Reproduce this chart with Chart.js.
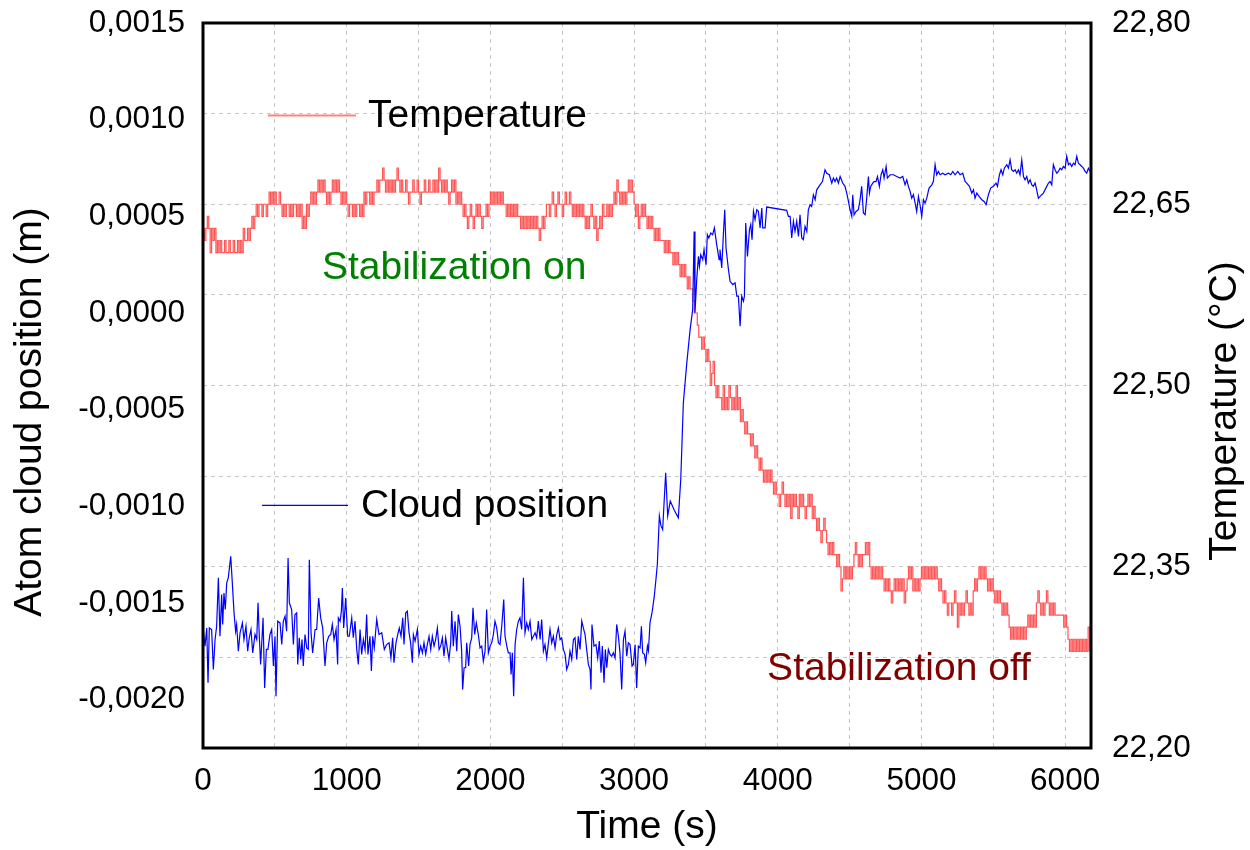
<!DOCTYPE html>
<html>
<head>
<meta charset="utf-8">
<script src="https://cdn.jsdelivr.net/npm/chart.js@4.4.1/dist/chart.umd.min.js"></script>
<style>
  html, body { margin: 0; padding: 0; background: #fff; }
  #wrap { width: 1250px; height: 850px; }
</style>
</head>
<body>
<div id="wrap"><canvas id="chart" width="1250" height="850"></canvas></div>
<script>
// axis ticks
const timeTicks = [0, 500, 1000, 1500, 2000, 2500, 3000, 3500, 4000, 4500, 5000, 5500, 6000];
const timeTickLabels = ['0', '', '1000', '', '2000', '', '3000', '', '4000', '', '5000', '', '6000'];
const posTicks = [-0.002, -0.0015, -0.001, -0.0005, 0, 0.0005, 0.001, 0.0015];
const tempTicks = [22.2, 22.275, 22.35, 22.425, 22.5, 22.575, 22.65, 22.725, 22.8];
const tempTickLabels = ['22,20', '', '22,35', '', '22,50', '', '22,65', '', '22,80'];

// temperature (°C), one reading every tempStep seconds from t = 0 (one row = 200 s)
const tempStep = 10;
const tempValues = [
  22.63,22.62,22.63,22.64,22.63,22.61,22.63,22.62,22.63,22.61, 22.62,22.61,22.62,22.61,22.61,22.62,22.61,22.61,22.62,22.61,
  22.61,22.62,22.61,22.61,22.62,22.61,22.62,22.61,22.63,22.62, 22.62,22.63,22.62,22.63,22.64,22.63,22.64,22.65,22.64,22.65,
  22.65,22.64,22.65,22.65,22.64,22.65,22.66,22.65,22.66,22.65, 22.66,22.65,22.65,22.66,22.65,22.64,22.65,22.64,22.65,22.65,
  22.64,22.65,22.64,22.65,22.65,22.64,22.65,22.64,22.65,22.63, 22.64,22.63,22.65,22.64,22.65,22.66,22.65,22.66,22.65,22.66,
  22.67,22.66,22.67,22.66,22.67,22.66,22.65,22.66,22.65,22.66, 22.67,22.66,22.67,22.66,22.67,22.66,22.65,22.66,22.65,22.66,
  22.65,22.64,22.65,22.65,22.64,22.65,22.64,22.65,22.65,22.64, 22.65,22.64,22.66,22.65,22.66,22.66,22.65,22.66,22.65,22.66,
  22.66,22.67,22.66,22.67,22.67,22.68,22.67,22.66,22.67,22.66, 22.67,22.66,22.67,22.66,22.67,22.68,22.67,22.66,22.67,22.66,
  22.66,22.67,22.66,22.65,22.66,22.66,22.67,22.66,22.66,22.67, 22.66,22.65,22.66,22.66,22.67,22.66,22.66,22.67,22.66,22.66,
  22.67,22.66,22.67,22.66,22.68,22.67,22.66,22.67,22.66,22.67, 22.66,22.65,22.66,22.67,22.66,22.67,22.65,22.66,22.65,22.66,
  22.65,22.64,22.65,22.64,22.63,22.64,22.65,22.64,22.63,22.64, 22.65,22.64,22.65,22.64,22.63,22.64,22.64,22.65,22.64,22.65,
  22.66,22.65,22.66,22.65,22.66,22.65,22.66,22.65,22.66,22.65, 22.65,22.64,22.65,22.64,22.65,22.64,22.65,22.64,22.65,22.64,
  22.64,22.63,22.64,22.63,22.64,22.63,22.64,22.63,22.64,22.63, 22.64,22.63,22.64,22.63,22.62,22.63,22.64,22.63,22.64,22.65,
  22.65,22.64,22.65,22.66,22.65,22.64,22.65,22.66,22.65,22.65, 22.64,22.65,22.66,22.65,22.65,22.66,22.65,22.64,22.65,22.64,
  22.65,22.64,22.65,22.64,22.65,22.64,22.63,22.64,22.63,22.64, 22.65,22.64,22.63,22.64,22.62,22.63,22.64,22.63,22.65,22.64,
  22.64,22.65,22.64,22.65,22.64,22.65,22.66,22.65,22.67,22.66, 22.65,22.66,22.65,22.66,22.65,22.66,22.67,22.66,22.67,22.66,
  22.65,22.64,22.65,22.63,22.64,22.65,22.64,22.65,22.64,22.63, 22.64,22.63,22.64,22.63,22.62,22.63,22.62,22.63,22.62,22.62,
  22.62,22.61,22.62,22.61,22.62,22.61,22.61,22.60,22.61,22.60, 22.61,22.60,22.59,22.60,22.59,22.60,22.59,22.58,22.59,22.58,
  22.58,22.57,22.56,22.56,22.55,22.54,22.54,22.53,22.54,22.53, 22.52,22.53,22.52,22.50,22.51,22.52,22.50,22.49,22.50,22.49,
  22.49,22.48,22.50,22.48,22.49,22.48,22.50,22.49,22.48,22.49, 22.48,22.50,22.48,22.49,22.47,22.48,22.47,22.46,22.47,22.46,
  22.46,22.45,22.46,22.45,22.44,22.45,22.44,22.43,22.44,22.43, 22.42,22.43,22.42,22.43,22.42,22.43,22.42,22.41,22.42,22.41,
  22.41,22.40,22.41,22.42,22.41,22.40,22.41,22.40,22.41,22.39, 22.41,22.40,22.41,22.40,22.39,22.41,22.40,22.41,22.40,22.39,
  22.40,22.41,22.40,22.41,22.39,22.40,22.39,22.38,22.39,22.38, 22.37,22.38,22.39,22.38,22.37,22.36,22.37,22.36,22.37,22.36,
  22.36,22.35,22.36,22.35,22.33,22.34,22.35,22.34,22.35,22.34, 22.35,22.34,22.35,22.36,22.37,22.36,22.35,22.36,22.35,22.36,
  22.36,22.37,22.36,22.37,22.35,22.34,22.35,22.34,22.35,22.34, 22.35,22.34,22.35,22.34,22.33,22.34,22.33,22.34,22.33,22.32,
  22.33,22.34,22.33,22.34,22.33,22.34,22.33,22.34,22.32,22.33, 22.34,22.35,22.34,22.35,22.33,22.34,22.33,22.34,22.33,22.34,
  22.35,22.34,22.35,22.34,22.35,22.34,22.35,22.34,22.35,22.34, 22.35,22.34,22.33,22.34,22.33,22.32,22.33,22.32,22.31,22.32,
  22.32,22.31,22.32,22.33,22.32,22.30,22.32,22.31,22.32,22.31, 22.32,22.33,22.32,22.31,22.32,22.31,22.33,22.34,22.33,22.34,
  22.35,22.34,22.35,22.34,22.35,22.34,22.33,22.34,22.33,22.34, 22.33,22.32,22.33,22.32,22.33,22.32,22.31,22.32,22.31,22.32,
  22.31,22.30,22.29,22.30,22.29,22.30,22.29,22.30,22.29,22.30, 22.29,22.30,22.29,22.30,22.31,22.30,22.31,22.30,22.31,22.30,
  22.32,22.33,22.32,22.31,22.32,22.31,22.32,22.33,22.32,22.31, 22.32,22.31,22.32,22.31,22.31,22.31,22.31,22.31,22.31,22.30,
  22.31,22.30,22.29,22.28,22.29,22.28,22.29,22.28,22.29,22.28, 22.29,22.28,22.29,22.28,22.29,22.28,22.30,22.28
];

// atom cloud position: time (s) and position (m)
const posTimes = [
  2,14,26,35,44,60,72,84,95,107,
  118,130,137,146,155,165,176,193,204,216,
  227,234,246,258,274,285,299,311,322,334,
  346,362,374,383,392,401,418,429,441,452,
  466,478,490,501,508,520,536,548,559,571,
  582,592,601,617,629,640,652,659,670,680,
  689,698,710,722,733,740,752,763,780,791,
  805,819,833,849,861,875,889,900,912,926,
  937,942,954,963,970,979,993,1007,1018,1035,
  1046,1058,1070,1081,1093,1104,1116,1128,1139,1148,
  1162,1172,1181,1192,1209,1225,1244,1262,1278,1295,
  1308,1320,1329,1343,1355,1366,1378,1390,1399,1411,
  1422,1434,1445,1457,1464,1476,1492,1503,1515,1527,
  1538,1550,1561,1573,1585,1596,1608,1619,1631,1643,
  1654,1666,1677,1689,1701,1712,1724,1731,1742,1754,
  1766,1777,1789,1800,1807,1817,1828,1835,1849,1858,
  1870,1879,1891,1902,1916,1928,1940,1951,1963,1974,
  1986,1998,2009,2021,2032,2044,2056,2067,2079,2093,
  2102,2114,2125,2137,2144,2153,2162,2172,2183,2195,
  2206,2218,2230,2241,2253,2264,2276,2288,2299,2311,
  2322,2334,2346,2357,2369,2380,2392,2404,2415,2427,
  2438,2450,2462,2473,2485,2496,2508,2520,2531,2543,
  2554,2566,2578,2589,2601,2612,2624,2636,2647,2659,
  2670,2682,2694,2700,2707,2721,2735,2747,2758,2770,
  2779,2791,2800,2810,2821,2833,2844,2856,2868,2879,
  2891,2902,2914,2926,2937,2949,2960,2972,2986,2995,
  3007,3018,3030,3042,3051,3060,3072,3081,3093,
  3100,3111,3125,3140,3152,3162,3176,3187,3199,3220,
  3234,3252,3280,3308,3325,3343,3367,3390,3408,3418,
  3424,3436,3448,3455,3464,3478,3487,3501,3510,3520,
  3534,3547,3559,3575,3592,3598,3610,3622,3631,3640,
  3657,3668,3687,3703,3715,3726,3738,3749,3761,3768,
  3777,3789,3803,3812,3821,3831,3842,3854,3865,3877,
  3889,3895,3912,3923,
  4062,4074,4086,4097,4109,4120,4132,4144,4155,4167,
  4178,4190,4202,4213,4225,4236,4248,4260,4271,4294,
  4311,4329,4341,4359,4376,4387,4399,4410,4422,4434,
  4452,4468,4480,4492,4503,4515,4522,4531,4545,4561,
  4573,4584,4596,4608,4619,4631,4638,4647,4661,4670,
  4684,4694,4707,4719,4731,4740,4754,4763,4782,4805,
  4828,4851,4870,4886,4898,4909,4921,4932,4944,4956,
  4967,4979,4990,5002,5014,5025,5037,5053,5072,5083,
  5095,5106,5118,5130,5148,5164,5188,5204,5218,5234,
  5253,5269,5287,5304,5315,5334,5350,5362,5373,5385,
  5401,5420,5436,5450,5466,5482,5501,5519,5529,5543,
  5554,5566,5577,5594,5605,5617,5628,5640,5652,5663,
  5675,5686,5698,5710,5721,5733,5744,5756,5768,5779,
  5791,5802,5814,5826,5837,5849,5860,5872,5884,5895,
  5907,5918,5930,5942,5953,5965,5976,5988,6000,6011,
  6023,6034,6046,6058,6069,6081,6092,6104,6116,6127,
  6139,6150,6162,6174
];
const posValues = [
  -0.001637,-0.001723,-0.001629,-0.001913,-0.001629,-0.001637,-0.001844,-0.001689,-0.001620,-0.001370,
  -0.001672,-0.001456,-0.001611,-0.001448,-0.001534,-0.001396,-0.001370,-0.001258,-0.001396,-0.001551,
  -0.001646,-0.001611,-0.001749,-0.001654,-0.001603,-0.001689,-0.001620,-0.001749,-0.001680,-0.001637,
  -0.001758,-0.001663,-0.001689,-0.001499,-0.001672,-0.001818,-0.001577,-0.001939,-0.001740,-0.001740,
  -0.001663,-0.001637,-0.001826,-0.001672,-0.001982,-0.001594,-0.001603,-0.001715,-0.001594,-0.001568,
  -0.001646,-0.001267,-0.001499,-0.001534,-0.001715,-0.001560,-0.001551,-0.001818,-0.001680,-0.001792,
  -0.001689,-0.001826,-0.001663,-0.001732,-0.001740,-0.001276,-0.001654,-0.001758,-0.001637,-0.001637,
  -0.001474,-0.001577,-0.001629,-0.001826,-0.001706,-0.001672,-0.001663,-0.001611,-0.001689,-0.001637,
  -0.001818,-0.001577,-0.001594,-0.001542,-0.001422,-0.001629,-0.001474,-0.001672,-0.001672,-0.001577,
  -0.001680,-0.001594,-0.001740,-0.001818,-0.001637,-0.001766,-0.001689,-0.001740,-0.001560,-0.001766,
  -0.001672,-0.001852,-0.001672,-0.001732,-0.001585,-0.001663,-0.001654,-0.001740,-0.001715,-0.001706,
  -0.001784,-0.001680,-0.001809,-0.001706,-0.001663,-0.001629,-0.001672,-0.001577,-0.001715,-0.001551,
  -0.001542,-0.001654,-0.001706,-0.001809,-0.001663,-0.001697,-0.001637,-0.001766,-0.001723,-0.001758,
  -0.001706,-0.001766,-0.001715,-0.001672,-0.001740,-0.001672,-0.001723,-0.001689,-0.001629,-0.001740,
  -0.001723,-0.001680,-0.001775,-0.001680,-0.001740,-0.001792,-0.001706,-0.001542,-0.001723,-0.001594,
  -0.001749,-0.001560,-0.001620,-0.001749,-0.001947,-0.001835,-0.001835,-0.001706,-0.001826,-0.001715,
  -0.001680,-0.001525,-0.001663,-0.001603,-0.001663,-0.001732,-0.001723,-0.001801,-0.001749,-0.001534,
  -0.001758,-0.001723,-0.001706,-0.001663,-0.001594,-0.001629,-0.001706,-0.001715,-0.001620,-0.001482,
  -0.001672,-0.001723,-0.001758,-0.001758,-0.001870,-0.001758,-0.001982,-0.001715,-0.001637,-0.001594,
  -0.001577,-0.001637,-0.001370,-0.001654,-0.001603,-0.001637,-0.001594,-0.001689,-0.001672,-0.001654,
  -0.001680,-0.001594,-0.001689,-0.001585,-0.001749,-0.001715,-0.001784,-0.001706,-0.001637,-0.001706,
  -0.001672,-0.001732,-0.001663,-0.001629,-0.001689,-0.001680,-0.001740,-0.001766,-0.001844,-0.001818,
  -0.001749,-0.001792,-0.001689,-0.001680,-0.001792,-0.001672,-0.001740,-0.001594,-0.001629,-0.001663,
  -0.001740,-0.001818,-0.001844,-0.001947,-0.001611,-0.001723,-0.001715,-0.001784,-0.001697,-0.001861,
  -0.001723,-0.001913,-0.001740,-0.001835,-0.001740,-0.001766,-0.001775,-0.001758,-0.001784,-0.001611,
  -0.001672,-0.001758,-0.001947,-0.001689,-0.001646,-0.001775,-0.001706,-0.001715,-0.001826,-0.001818,
  -0.001715,-0.001939,-0.001723,-0.001732,-0.001620,-0.001758,-0.001766,-0.001809,-0.001723,
  -0.001747,-0.001601,-0.00155,-0.00147,-0.00138,-0.0013,-0.00105,-0.0011,-0.00112,-0.000826,
  -0.00105,-0.000973,-0.00102,-0.001059,-0.00086,-0.000464,-0.000258,-0.000086,0.000018,0.000422,
  0.000001,0.000173,0.000293,0.000242,0.000302,0.000276,0.000328,0.00025,0.000405,0.000388,
  0.000414,0.000405,0.00044,0.000354,0.000276,0.000328,0.000233,0.000414,0.000534,0.000336,
  0.000224,0.000164,0.000147,0.000156,0.000087,0.000087,-0.000068,0.000087,0.000061,0.000087,
  0.000465,0.000293,0.000431,0.000457,0.000379,0.000526,0.000483,0.000534,0.000526,0.00044,
  0.000543,0.00044,0.00044,0.000548,
  0.000531,0.0005,0.0005,0.000388,0.000474,0.000422,0.000474,0.000396,0.000508,0.000388,
  0.000379,0.000448,0.000422,0.000534,0.00056,0.000551,0.000612,0.000586,0.000637,0.000663,
  0.00068,0.000741,0.000723,0.000715,0.000672,0.000698,0.00068,0.000698,0.000672,0.000706,
  0.000672,0.000655,0.00062,0.000577,0.000534,0.0005,0.000612,0.000508,0.000525,0.000534,
  0.000586,0.000655,0.000517,0.000508,0.000594,0.000706,0.00062,0.000655,0.000672,0.00068,
  0.00068,0.000706,0.000655,0.000715,0.000741,0.000698,0.000758,0.000698,0.000715,0.000715,
  0.000706,0.000698,0.000706,0.000663,0.000689,0.000655,0.000629,0.000594,0.000612,0.000568,
  0.000525,0.000603,0.00056,0.0005,0.000586,0.000568,0.000594,0.000646,0.000663,0.00068,
  0.000767,0.000715,0.000732,0.000715,0.000723,0.000715,0.000723,0.000715,0.000732,0.000715,
  0.000732,0.000715,0.000723,0.00068,0.000672,0.000655,0.00062,0.000637,0.000594,0.00062,
  0.000603,0.000586,0.000577,0.00056,0.000612,0.000646,0.000655,0.000672,0.000655,0.000715,
  0.000741,0.000715,0.000749,0.000767,0.000749,0.000792,0.000741,0.000732,0.000741,0.000723,
  0.000741,0.000715,0.000792,0.000706,0.000689,0.000706,0.000672,0.000689,0.000663,0.000655,
  0.000672,0.000637,0.000594,0.000603,0.000612,0.00062,0.000637,0.000655,0.000672,0.00068,
  0.000663,0.000767,0.000741,0.000723,0.000732,0.000749,0.000741,0.000758,0.000749,0.00081,
  0.000767,0.000775,0.000758,0.000775,0.000767,0.00081,0.000775,0.000767,0.000758,0.000749,
  0.000732,0.000723,0.000749,0.000732
];

const FONT = '"Liberation Sans", Arial, Helvetica, sans-serif';
Chart.defaults.font.family = FONT;
Chart.defaults.color = '#000';

const tempData = tempValues.map((v, i) => ({ x: i * tempStep, y: v }));
const posData = posTimes.map((t, i) => ({ x: t, y: posValues[i] }));

const gridColor = '#c8c8c8';
const decimalComma = (v, d) => v.toFixed(d).replace('.', ',');
// keep the plot box where the reference has it
const noPad = s => { s.paddingTop = 0; s.paddingBottom = 0; s.paddingLeft = 0; s.paddingRight = 0; };

// frame, axis titles, in-plot legend and the two notes
const decor = {
  id: 'decor',
  afterDatasetsDraw(chart) {
    const { ctx, chartArea: a, scales } = chart;
    const sx = scales.x, sp = scales.yP, st = scales.yT;
    const [posSet, tempSet] = chart.data.datasets;
    ctx.save();
    ctx.strokeStyle = '#000';
    ctx.lineWidth = 3;
    ctx.strokeRect(a.left, a.top, a.right - a.left, a.bottom - a.top);

    ctx.font = '39px ' + FONT;
    ctx.textBaseline = 'middle';
    ctx.textAlign = 'left';

    // legend: Temperature
    let y = st.getPixelForValue(22.7234);
    ctx.strokeStyle = '#ff8080';
    ctx.lineWidth = 2;
    ctx.beginPath();
    ctx.moveTo(sx.getPixelForValue(452), y);
    ctx.lineTo(sx.getPixelForValue(1065), y);
    ctx.stroke();
    ctx.fillStyle = '#000';
    ctx.fillText(tempSet.label, sx.getPixelForValue(1148), y + 1);

    // legend: Cloud position
    y = sp.getPixelForValue(-0.000995);
    ctx.strokeStyle = '#0000ff';
    ctx.lineWidth = 1.2;
    ctx.beginPath();
    ctx.moveTo(sx.getPixelForValue(411), y);
    ctx.lineTo(sx.getPixelForValue(1009), y);
    ctx.stroke();
    ctx.fillText(posSet.label, sx.getPixelForValue(1100), y + 1);

    // notes
    ctx.fillStyle = '#008000';
    ctx.fillText('Stabilization on', sx.getPixelForValue(828), st.getPixelForValue(22.597));
    ctx.fillStyle = '#800000';
    ctx.fillText('Stabilization off', sx.getPixelForValue(3926), st.getPixelForValue(22.265));

    // axis titles
    ctx.fillStyle = '#000';
    ctx.textAlign = 'center';
    ctx.fillText('Time (s)', (a.left + a.right) / 2, 827);
    ctx.save();
    ctx.translate(30, 412);
    ctx.rotate(-Math.PI / 2);
    ctx.fillText('Atom cloud position (m)', 0, 0);
    ctx.restore();
    ctx.save();
    ctx.translate(1225, 411);
    ctx.rotate(-Math.PI / 2);
    ctx.fillText('Temperature (°C)', 0, 0);
    ctx.restore();
    ctx.restore();
  }
};

new Chart(document.getElementById('chart'), {
  type: 'line',
  data: {
    datasets: [
      {
        label: 'Cloud position',
        data: posData,
        yAxisID: 'yP',
        borderColor: '#0000ff',
        borderWidth: 1.2,
        pointRadius: 0,
        tension: 0
      },
      {
        label: 'Temperature',
        data: tempData,
        yAxisID: 'yT',
        borderColor: '#ff5555',
        borderWidth: 1.2,
        pointRadius: 0,
        stepped: true
      }
    ]
  },
  options: {
    responsive: false,
    animation: false,
    devicePixelRatio: 1,
    layout: { padding: { top: 23, left: 0, right: 0, bottom: 0 } },
    plugins: { legend: { display: false }, tooltip: { enabled: false } },
    scales: {
      x: {
        type: 'linear',
        min: 0,
        max: 6180,
        afterBuildTicks: s => { s.ticks = timeTicks.map(v => ({ value: v })); },
        afterFit: s => { s.height = 102; noPad(s); },
        ticks: {
          autoSkip: false,
          maxRotation: 0,
          padding: 14,
          font: { size: 31.5 },
          callback: (v, i) => timeTickLabels[i]
        },
        grid: { color: gridColor, lineWidth: 1, drawTicks: false },
        border: { display: false, dash: [4, 4] }
      },
      yP: {
        type: 'linear',
        position: 'left',
        min: -0.00225,
        max: 0.0015,
        afterBuildTicks: s => { s.ticks = posTicks.map(v => ({ value: v })); },
        afterFit: s => { s.width = 203; noPad(s); },
        ticks: {
          padding: 18,
          font: { size: 31.5 },
          callback: v => decimalComma(v, 4)
        },
        grid: { display: false, drawTicks: false },
        border: { display: false }
      },
      yT: {
        type: 'linear',
        position: 'right',
        min: 22.2,
        max: 22.8,
        afterBuildTicks: s => { s.ticks = tempTicks.map(v => ({ value: v })); },
        afterFit: s => { s.width = 159; noPad(s); },
        ticks: {
          padding: 21,
          font: { size: 31.5 },
          callback: (v, i) => tempTickLabels[i]
        },
        grid: { color: gridColor, lineWidth: 1, drawTicks: false },
        border: { display: false, dash: [4, 4] }
      }
    }
  },
  plugins: [decor]
});
</script>
</body>
</html>
